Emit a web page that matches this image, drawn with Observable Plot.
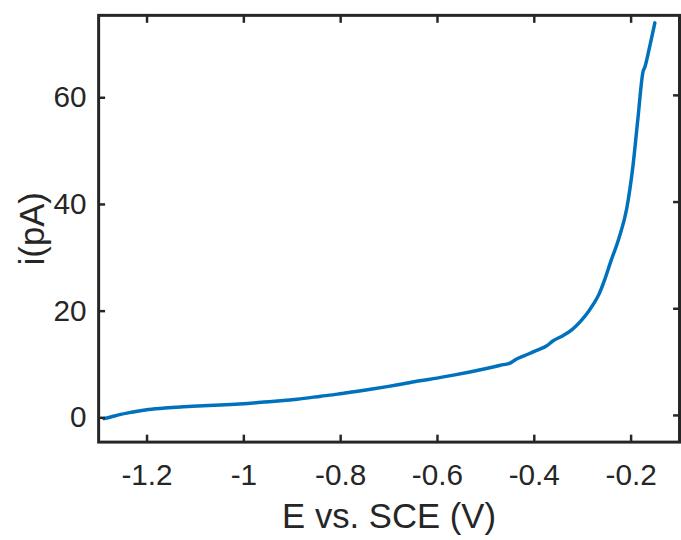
<!DOCTYPE html>
<html><head><meta charset="utf-8">
<script src="https://cdn.jsdelivr.net/npm/d3@7"></script>
<script src="https://cdn.jsdelivr.net/npm/@observablehq/plot@0.6"></script>
<style>html,body{margin:0;padding:0;overflow:hidden;background:#fff;width:681px;height:540px}</style>
</head><body><div id="chart"></div>
<script>
// E vs. SCE (V)
const potential = [-1.289, -1.275, -1.259, -1.232, -1.197, -1.163, -1.130, -1.095, -1.060, -1.027, -0.992, -0.958, -0.924, -0.890, -0.841, -0.806, -0.772, -0.738, -0.704, -0.670, -0.636, -0.601, -0.567, -0.533, -0.499, -0.470, -0.448, -0.440, -0.420, -0.400, -0.392, -0.375, -0.361, -0.340, -0.322, -0.305, -0.288, -0.277, -0.267, -0.254, -0.243, -0.226, -0.209, -0.196, -0.186, -0.175, -0.172, -0.162, -0.151];
// i (pA)
const current = [-0.6, -0.3, 0.1, 0.6, 1.1, 1.4, 1.6, 1.75, 1.9, 2.05, 2.25, 2.5, 2.75, 3.05, 3.6, 4.0, 4.45, 4.9, 5.4, 5.95, 6.5, 7.0, 7.55, 8.15, 8.8, 9.4, 9.9, 10.4, 11.2, 12.0, 12.3, 13.0, 14.0, 15.0, 16.1, 17.6, 19.5, 21.0, 22.6, 25.6, 28.6, 33.0, 38.8, 46.9, 55.6, 64.6, 65.2, 69.0, 73.6];
const xTicks = [-1.2, -1, -0.8, -0.6, -0.4, -0.2];
const yTicks = [0, 20, 40, 60];
const xLabel = "E vs. SCE (V)";
const yLabel = "i(pA)";

const data = potential.map((e, i) => ({E: e, I: current[i]}));
const ink = "#262626";
const font = "'Liberation Sans', Arial, Helvetica, sans-serif";

const chart = Plot.plot({
  width: 687, height: 540,
  marginLeft: 99, marginRight: 2, marginTop: 15, marginBottom: 94.5,
  style: {fontFamily: font, fontSize: "30px", color: ink, background: "#fff", overflow: "visible"},
  x: {domain: [-1.3, -0.1]},
  y: {domain: [-5, 75]},
  marks: [
    Plot.line(data, {x: "E", y: "I", stroke: "#0072BD", strokeWidth: 3.5, curve: "monotone-x"}),
    Plot.frame({stroke: ink, strokeWidth: 3}),
    Plot.axisX(xTicks, {anchor: "bottom", tickSize: -7, tickPadding: 28.5, strokeWidth: 2.5, fontSize: 30, tickFormat: d => String(d), label: null}),
    Plot.axisX(xTicks, {anchor: "top", tickSize: -7, strokeWidth: 2.5, tickFormat: () => "", label: null}),
    Plot.axisY(yTicks, {anchor: "left", tickSize: -7, tickPadding: 19.3, dy: 2.4, strokeWidth: 2.5, fontSize: 30, tickFormat: d => String(d), label: null}),
    Plot.axisY(yTicks, {anchor: "right", tickSize: -7, strokeWidth: 2.5, tickFormat: () => "", label: null}),
    Plot.text([xLabel], {text: d => d, frameAnchor: "bottom", lineAnchor: "middle", textAnchor: "middle", dy: 75.6, fontSize: 35, fill: ink}),
    Plot.text([yLabel], {text: d => d, frameAnchor: "left", lineAnchor: "middle", textAnchor: "middle", dx: -66.5, rotate: -90, fontSize: 35, fill: ink})
  ]
});
document.getElementById("chart").appendChild(chart);
</script>
</body></html>
